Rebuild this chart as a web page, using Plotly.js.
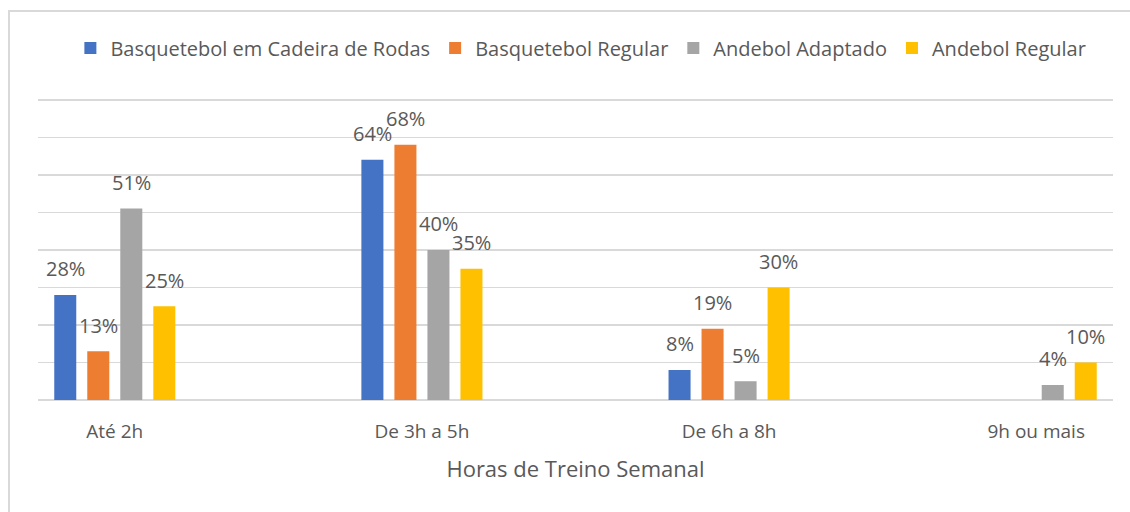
<!DOCTYPE html>
<html><head><meta charset="utf-8">
<script src="https://cdn.plot.ly/plotly-3.0.1.min.js"></script>
<style>
html,body{margin:0;padding:0;background:#fff;overflow:hidden;}
#chart{width:1130px;height:512px;position:absolute;left:0;top:0;}
#frame{position:absolute;left:8px;top:10px;width:1200px;height:600px;border:2px solid #D9D9D9;box-sizing:border-box;pointer-events:none;}
</style></head>
<body>
<div id="chart"></div>
<div id="frame"></div>
<script>
const categories = ["Até 2h", "De 3h a 5h", "De 6h a 8h", "9h ou mais"];
const seriesNames = ["Basquetebol em Cadeira de Rodas", "Basquetebol Regular", "Andebol Adaptado", "Andebol Regular"];
const basqCadeira = [28, 64, 8, null];
const basqRegular = [13, 68, 19, null];
const andebolAdaptado = [51, 40, 5, 4];
const andebolRegular = [25, 35, 30, 10];
const colors = ["#4472C4", "#ED7D31", "#A5A5A5", "#FFC000"];
const xTitle = "Horas de Treino Semanal";

const FONT = "Open Sans, sans-serif";
const GRAY = "#595959";
const allSeries = [basqCadeira, basqRegular, andebolAdaptado, andebolRegular];
const traces = allSeries.map((vals, i) => ({
  type: "bar", name: seriesNames[i], x: categories, y: vals,
  marker: {color: colors[i]}, hoverinfo: "skip"
}));
const shifts = [-49.5, -16.5, 16.5, 49.5];
const annotations = [];
allSeries.forEach((vals, i) => {
  vals.forEach((v, j) => {
    if (v === null) return;
    annotations.push({x: categories[j], y: v, xref: "x", yref: "y", text: v + "%",
      showarrow: false, xshift: shifts[i], yshift: 26, yanchor: "middle",
      font: {family: FONT, size: 20, color: GRAY}});
  });
});
const layout = {
  width: 1130, height: 512,
  margin: {l: 38, r: 17, t: 96.25, b: 112},
  paper_bgcolor: "#fff", plot_bgcolor: "#fff",
  barmode: "group", bargap: 0.57, bargroupgap: 0.333,
  font: {family: FONT, color: GRAY},
  showlegend: true,
  legend: {orientation: "h", x: 0.505, xanchor: "center", y: 1.158, yanchor: "middle",
    font: {family: FONT, size: 20, color: GRAY}, itemwidth: 30, traceorder: "normal"},
  xaxis: {range: [-0.25, 3.25], showgrid: false, showline: false, zeroline: false,
    ticks: "", ticklabelstandoff: 18, tickfont: {family: FONT, size: 19, color: GRAY},
    title: {text: xTitle, font: {family: FONT, size: 22, color: GRAY}, standoff: 18}},
  yaxis: {range: [0, 81], tickvals: [0, 10, 20, 30, 40, 50, 60, 70, 80], showticklabels: false, showgrid: true,
    gridcolor: "#D9D9D9", gridwidth: 1.5, zeroline: true, zerolinecolor: "#D9D9D9", zerolinewidth: 1.5,
    fixedrange: true},
  annotations: annotations
};
Plotly.newPlot("chart", traces, layout, {displayModeBar: false, staticPlot: true});
</script>
</body></html>
